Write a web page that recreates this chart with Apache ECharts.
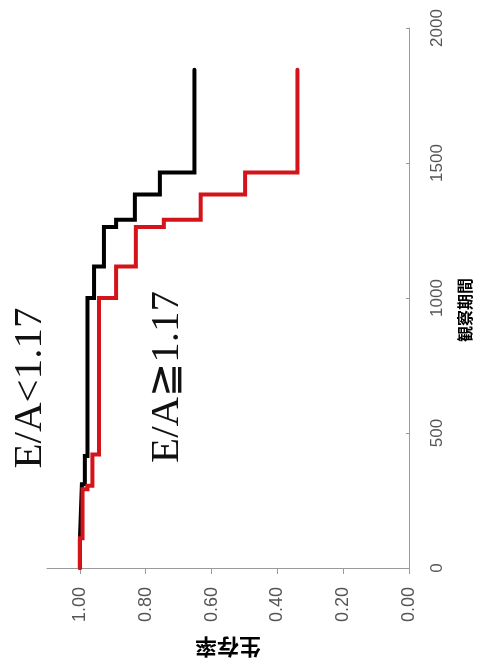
<!DOCTYPE html>
<html>
<head>
<meta charset="utf-8">
<script src="https://cdn.jsdelivr.net/npm/echarts@6/dist/echarts.min.js"></script>
<style>
  html, body { margin: 0; padding: 0; background: #fff; }
  #chart { width: 481px; height: 666px; }
</style>
</head>
<body>
<div id="chart"></div>
<script>
// Kaplan-Meier survival by E/A ratio, drawn turned on its side:
// survival runs along the bottom (1.00 at left), follow-up time runs up the right.

// E/A < 1.17 : event times (days) and survival after each event
const lowTimes    = [105, 310, 415, 1000, 1117, 1263, 1290, 1383, 1465];
const lowSurvival = [0.994, 0.985, 0.977, 0.957, 0.927, 0.890, 0.833, 0.757, 0.652];
const lowEnd = 1845;

// E/A >= 1.17
const highTimes    = [110, 292, 305, 420, 1000, 1117, 1263, 1290, 1383, 1465];
const highSurvival = [0.992, 0.977, 0.962, 0.942, 0.890, 0.830, 0.745, 0.633, 0.498, 0.339];
const highEnd = 1845;

const survivalTicks = [0, 0.2, 0.4, 0.6, 0.8, 1.0];
const timeTicks = [0, 500, 1000, 1500, 2000];

const lowLabel = 'E/A<1.17';
const highLabel = 'E/A\u22671.17';

// turn event lists into a step path of [survival, time] points
function stepPath(times, surv, endTime) {
  const pts = [[1.0, 0]];
  let s = 1.0;
  for (let i = 0; i < times.length; i++) {
    pts.push([s, times[i]]);
    s = surv[i];
    pts.push([s, times[i]]);
  }
  pts.push([s, endTime]);
  return pts;
}

const chart = echarts.init(document.getElementById('chart'));
const axisGray = '#9a9a9a';
const labelGray = '#555';

chart.setOption({
  animation: false,
  grid: { left: 47, right: 66, top: 28, bottom: 98, containLabel: false },
  xAxis: {
    type: 'value',
    min: 0, max: 1.1, interval: 0.2,
    inverse: true,
    position: 'bottom',
    name: '生存率',
    nameLocation: 'middle',
    nameRotate: 180,
    nameGap: 68,
    nameTextStyle: { fontFamily: 'Noto Sans CJK JP', fontWeight: 'bold', fontSize: 22, color: '#000' },
    splitLine: { show: false },
    axisLine: { show: true, onZero: false, lineStyle: { color: axisGray, width: 1 } },
    axisTick: { show: true, inside: false, length: 6, customValues: survivalTicks, lineStyle: { color: axisGray } },
    axisLabel: {
      customValues: survivalTicks,
      rotate: 90, margin: 19,
      fontFamily: 'Liberation Sans', fontSize: 18, color: labelGray,
      formatter: v => v.toFixed(2)
    }
  },
  yAxis: {
    type: 'value',
    min: 0, max: 2000, interval: 500,
    position: 'right',
    name: '観察期間',
    nameLocation: 'middle',
    nameRotate: 90,
    nameGap: 48,
    nameTextStyle: { fontFamily: 'Noto Sans CJK JP', fontWeight: 'bold', fontSize: 16, color: '#000', padding: [0, 24, 0, 0] },
    splitLine: { show: false },
    axisLine: { show: true, onZero: false, lineStyle: { color: axisGray, width: 1 } },
    axisTick: { show: true, inside: true, length: 3, lineStyle: { color: axisGray } },
    axisLabel: {
      rotate: 90, margin: 20,
      fontFamily: 'Liberation Sans', fontSize: 17, color: labelGray,
      customValues: timeTicks,
      formatter: v => String(v)
    }
  },
  series: [
    {
      name: lowLabel,
      type: 'line',
      data: stepPath(lowTimes, lowSurvival, lowEnd),
      showSymbol: false,
      lineStyle: { color: '#000', width: 4, cap: 'round', join: 'miter' }
    },
    {
      name: highLabel,
      type: 'line',
      data: stepPath(highTimes, highSurvival, highEnd),
      showSymbol: false,
      lineStyle: { color: '#d3141a', width: 4, cap: 'round', join: 'miter' }
    }
  ],
  graphic: [
    {
      type: 'text', x: 30, y: 388, rotation: Math.PI / 2,
      style: { text: lowLabel, font: '41px "Liberation Serif"', fill: '#111', align: 'center', verticalAlign: 'middle' }
    },
    {
      type: 'text', x: 167, y: 377, rotation: Math.PI / 2,
      style: { text: highLabel, font: '41px "Liberation Serif"', fill: '#111', align: 'center', verticalAlign: 'middle' }
    }
  ]
});
</script>
</body>
</html>
